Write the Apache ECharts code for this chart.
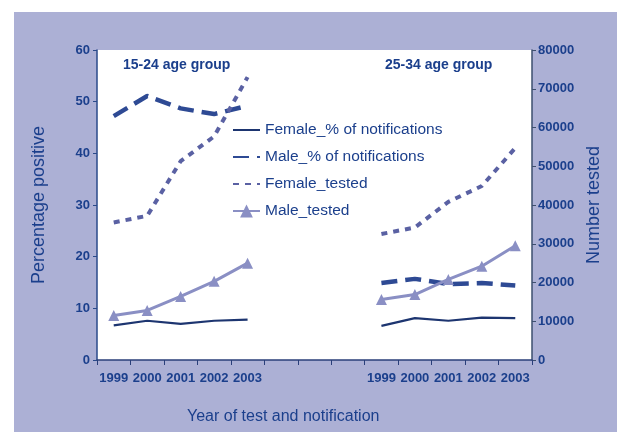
<!DOCTYPE html>
<html>
<head>
<meta charset="utf-8">
<script src="https://cdn.jsdelivr.net/npm/echarts@6/dist/echarts.min.js"></script>
<style>
html,body{margin:0;padding:0;background:#fff;}
#chart{width:617px;height:432px;background:linear-gradient(#acb0d5,#acb0d5) no-repeat 14px 12px / 603px 420px, #fff;}
</style>
</head>
<body>
<div id="chart"></div>
<script>
// Tick labels / categories
var years = ['1999','2000','2001','2002','2003'];
var gapCats = ['','',''];
var groupTitles = ['15-24 age group','25-34 age group'];
var seriesNames = ['Female_% of notifications','Male_% of notifications','Female_tested','Male_tested'];
var xAxisTitle = 'Year of test and notification';

// 15-24 age group
var femalePct15 = [6.7, 7.6, 7.0, 7.6, 7.8];
var malePct15 = [47.2, 51.1, 48.7, 47.6, 49.2];
var femaleTested15 = [35500, 37200, 51300, 57700, 73000];
var maleTested15 = [11500, 12800, 16400, 20300, 25000];

// 25-34 age group
var femalePct25 = [6.6, 8.1, 7.6, 8.2, 8.1];
var malePct25 = [14.9, 15.7, 14.7, 14.9, 14.4];
var femaleTested25 = [32500, 34200, 40800, 44900, 54700];
var maleTested25 = [15600, 16900, 20800, 24200, 29500];

var categories = years.concat(gapCats, years);
var gapNulls = gapCats.map(function(){ return null; });
function join(a, b){ return a.concat(gapNulls, b); }

var navy = '#1b3f8c';
var font = 'Liberation Sans, Arial, sans-serif';
var hiddenSym = {color: 'rgba(0,0,0,0)', borderWidth: 0, opacity: 0};

var chart = echarts.init(document.getElementById('chart'), null, {renderer:'canvas'});
chart.setOption({
  animation: false,
  textStyle: {fontFamily: font},
  grid: {left: 97, right: 85, top: 50, bottom: 72, show: true, backgroundColor: '#ffffff', borderWidth: 0},
  legend: {
    orient: 'vertical', left: 227, top: 117, itemWidth: 27, itemHeight: 16, itemGap: 11,
    textStyle: {color: navy, fontSize: 15.5, fontFamily: font},
    data: [
      {name: seriesNames[0], itemStyle: hiddenSym},
      {name: seriesNames[1], itemStyle: hiddenSym},
      {name: seriesNames[2], itemStyle: hiddenSym},
      {name: seriesNames[3]}
    ]
  },
  graphic: [
    {type:'text', left: 123, top: 58, style:{text: groupTitles[0], fill: navy, font: 'bold 14px Liberation Sans, Arial, sans-serif'}},
    {type:'text', left: 385, top: 58, style:{text: groupTitles[1], fill: navy, font: 'bold 14px Liberation Sans, Arial, sans-serif'}},
    {type:'text', left: 187, top: 409, style:{text: xAxisTitle, fill: navy, font: '16px Liberation Sans, Arial, sans-serif'}}
  ],
  xAxis: {
    type: 'category',
    data: categories.map(function(c, i){ return 'c' + i; }),
    boundaryGap: true,
    axisLine: {lineStyle: {color: '#2a3f7a', width: 1.5}},
    axisTick: {show: true, length: 5, lineStyle: {color: '#2a3f7a'}},
    axisLabel: {color: navy, fontSize: 13, fontWeight: 'bold', margin: 12, interval: 0,
      formatter: function(v, i){ return categories[i]; }},
    splitLine: {show: false}
  },
  yAxis: [
    {
      type: 'value', min: 0, max: 60, interval: 10, position: 'left',
      name: 'Percentage positive', nameLocation: 'middle', nameGap: 49, nameRotate: 90,
      nameTextStyle: {color: navy, fontSize: 18, fontFamily: font},
      axisLine: {show: true, lineStyle: {color: '#2a4a8a', width: 1.5}},
      axisTick: {show: true, length: 4, lineStyle: {color: '#2a4a8a'}},
      axisLabel: {color: navy, fontSize: 13, fontWeight: 'bold', margin: 7},
      splitLine: {show: false}
    },
    {
      type: 'value', min: 0, max: 80000, interval: 10000, position: 'right',
      name: 'Number tested', nameLocation: 'middle', nameGap: 53, nameRotate: 90,
      nameTextStyle: {color: navy, fontSize: 18, fontFamily: font},
      axisLine: {show: true, lineStyle: {color: '#3d4f6e', width: 1.5}},
      axisTick: {show: true, length: 4, lineStyle: {color: '#3d4f6e'}},
      axisLabel: {color: navy, fontSize: 13, fontWeight: 'bold', margin: 6,
        formatter: function(v){ return String(v); }},
      splitLine: {show: false}
    }
  ],
  series: [
    {name: seriesNames[0], type: 'line', yAxisIndex: 0, data: join(femalePct15, femalePct25),
      symbol: 'none', lineStyle: {color: '#1d3570', width: 2.2}, itemStyle: {color: '#1d3570'}},
    {name: seriesNames[1], type: 'line', yAxisIndex: 0, data: join(malePct15, malePct25),
      symbol: 'none', lineStyle: {color: '#2e4a94', width: 4.5, type: [16, 8]}, itemStyle: {color: '#2e4a94'}},
    {name: seriesNames[2], type: 'line', yAxisIndex: 1, data: join(femaleTested15, femaleTested25),
      symbol: 'none', lineStyle: {color: '#5a61a3', width: 4, type: [6, 6]}, itemStyle: {color: '#5a61a3'}},
    {name: seriesNames[3], type: 'line', yAxisIndex: 1, data: join(maleTested15, maleTested25),
      symbol: 'triangle', symbolSize: 11, showAllSymbol: true,
      lineStyle: {color: '#8a8fc4', width: 3}, itemStyle: {color: '#8a8fc4'}}
  ]
});
</script>
</body>
</html>
